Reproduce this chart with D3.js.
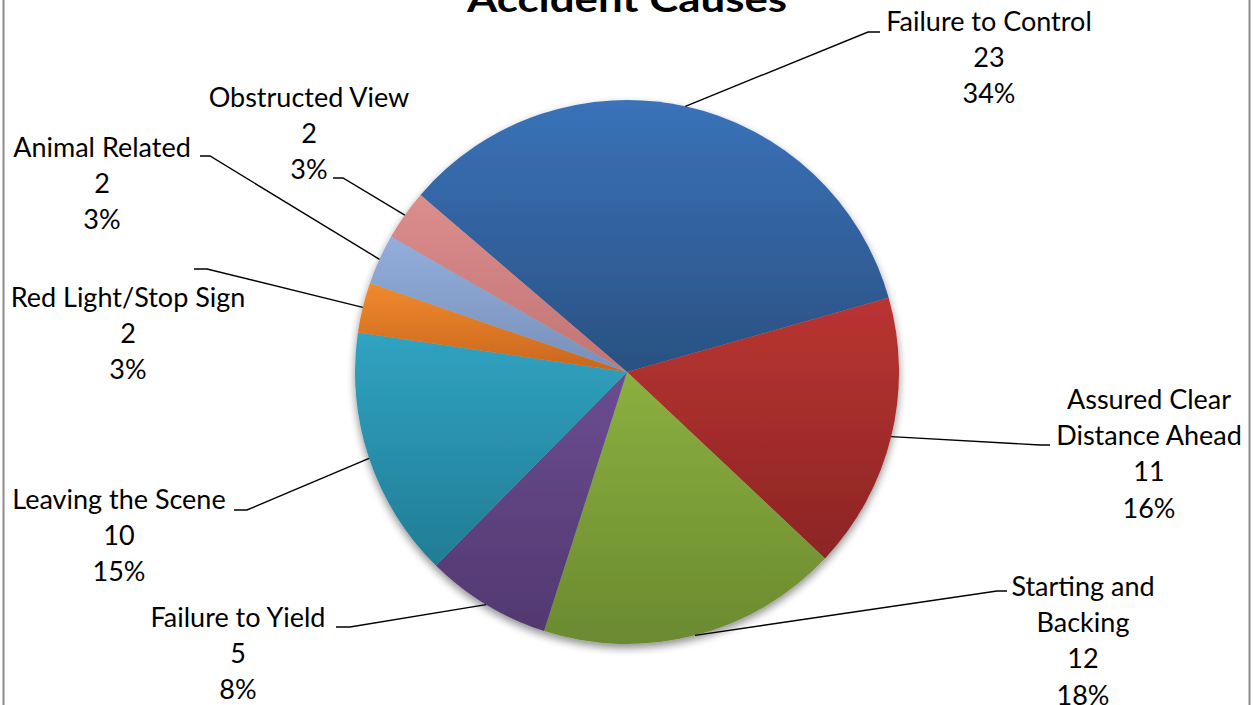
<!DOCTYPE html>
<html>
<head>
<meta charset="utf-8">
<script src="https://cdn.jsdelivr.net/npm/d3@7"></script>
<style>
    body { margin: 0; background: #fff; }
    svg { display: block; }
    text { font-family: Lato, "Liberation Sans", sans-serif; fill: #000; }
</style>
</head>
<body>
<svg id="chart" width="1253" height="705"></svg>
<script>

var causes = ["Failure to Control", "Assured Clear Distance Ahead", "Starting and Backing", "Failure to Yield",
              "Leaving the Scene", "Red Light/Stop Sign", "Animal Related", "Obstructed View"];
var counts = [23, 11, 12, 5, 10, 2, 2, 2];
var percentLabels = ["34%", "16%", "18%", "8%", "15%", "3%", "3%", "3%"];
var nameLines = [["Failure to Control"], ["Assured Clear", "Distance Ahead"], ["Starting and", "Backing"], ["Failure to Yield"],
                 ["Leaving the Scene"], ["Red Light/Stop Sign"], ["Animal Related"], ["Obstructed View"]];

var colorTop = ["#3a72b9", "#ba3431", "#8bb03f", "#6b4d92", "#30a3c2", "#f08a2e", "#93aedd", "#dc8e8d"];
var colorBottom = ["#2a5182", "#8c2525", "#6b8a30", "#523870", "#217c95", "#c9661d", "#7890b8", "#c07473"];

// label centre x, first line centre y, elbow of leader, end of leader
var labelLayout = [
    {x: 989, y: 22, elbow: [868, 32], end: [880, 32]},
    {x: 1149, y: 400, elbow: [1040, 445], end: [1050, 445]},
    {x: 1083, y: 587, elbow: [997, 591], end: [1007, 591]},
    {x: 238, y: 618, elbow: [350, 627], end: [336, 627]},
    {x: 119, y: 500, elbow: [247, 510], end: [234, 510]},
    {x: 128, y: 298, elbow: [207, 269], end: [194, 269]},
    {x: 102, y: 148, elbow: [210, 156], end: [200, 156]},
    {x: 309, y: 98, elbow: [343, 178], end: [333, 178]}
];

var width = 1253, height = 705;
var cx = 627, cy = 372, radius = 272;
var lineStep = 36.2;
var textShift = -2;
var startDeg = -49.4;

var svg = d3.select("#chart");
var defs = svg.append("defs");

causes.forEach(function (c, i) {
    var g = defs.append("linearGradient")
        .attr("id", "grad" + i)
        .attr("x1", 0).attr("y1", 0).attr("x2", 0).attr("y2", 1);
    g.append("stop").attr("offset", "0%").attr("stop-color", colorTop[i]);
    g.append("stop").attr("offset", "100%").attr("stop-color", colorBottom[i]);
});

var shadow = defs.append("filter").attr("id", "shadow")
    .attr("x", "-10%").attr("y", "-10%").attr("width", "120%").attr("height", "120%");
shadow.append("feGaussianBlur").attr("in", "SourceAlpha").attr("stdDeviation", 4);
shadow.append("feOffset").attr("dx", 0).attr("dy", 4).attr("result", "blur");
shadow.append("feComponentTransfer").append("feFuncA").attr("type", "linear").attr("slope", 0.45);
var merge = shadow.append("feMerge");
merge.append("feMergeNode");
merge.append("feMergeNode").attr("in", "SourceGraphic");

// chart frame sides
svg.append("line").attr("x1", 3.5).attr("x2", 3.5).attr("y1", 0).attr("y2", height)
    .attr("stroke", "#8c8c8c").attr("stroke-width", 2);
svg.append("line").attr("x1", 1249.5).attr("x2", 1249.5).attr("y1", 0).attr("y2", height)
    .attr("stroke", "#8c8c8c").attr("stroke-width", 2);

var data = causes.map(function (c, i) {
    return {cause: c, count: counts[i], pct: percentLabels[i], lines: nameLines[i], index: i};
});

var pie = d3.pie()
    .sort(null)
    .value(function (d) { return d.count; })
    .startAngle(startDeg * Math.PI / 180)
    .endAngle(startDeg * Math.PI / 180 + 2 * Math.PI);

var arcs = pie(data);

var arc = d3.arc().innerRadius(0).outerRadius(radius);
var edgeArc = d3.arc().innerRadius(radius).outerRadius(radius);

var pieG = svg.append("g")
    .attr("transform", "translate(" + cx + "," + cy + ")")
    .attr("filter", "url(#shadow)");

pieG.selectAll("path")
    .data(arcs)
    .enter().append("path")
    .attr("d", arc)
    .attr("fill", function (d) { return "url(#grad" + d.index + ")"; });

// leader lines
svg.append("g").selectAll("polyline")
    .data(arcs)
    .enter().append("polyline")
    .attr("fill", "none")
    .attr("stroke", "#000")
    .attr("stroke-width", 1.4)
    .attr("points", function (d) {
        var p = edgeArc.centroid(d);
        var l = labelLayout[d.index];
        return [[p[0] + cx, p[1] + cy], l.elbow, l.end].map(function (q) { return q.join(","); }).join(" ");
    });

// data labels
var labels = svg.append("g").selectAll("text")
    .data(data)
    .enter().append("text")
    .attr("text-anchor", "middle")
    .attr("font-size", 27)
    .attr("dominant-baseline", "central");

labels.each(function (d) {
    var l = labelLayout[d.index];
    var rows = d.lines.concat([String(d.count), d.pct]);
    d3.select(this).selectAll("tspan")
        .data(rows)
        .enter().append("tspan")
        .attr("x", l.x)
        .attr("y", function (r, k) { return l.y + textShift + k * lineStep; })
        .text(function (r) { return r; });
});

svg.append("text")
    .attr("x", cx)
    .attr("y", 12)
    .attr("text-anchor", "middle")
    .attr("font-size", 36)
    .attr("font-weight", "bold")
    .attr("textLength", 320)
    .attr("lengthAdjust", "spacingAndGlyphs")
    .text("Accident Causes");

</script>
</body>
</html>
